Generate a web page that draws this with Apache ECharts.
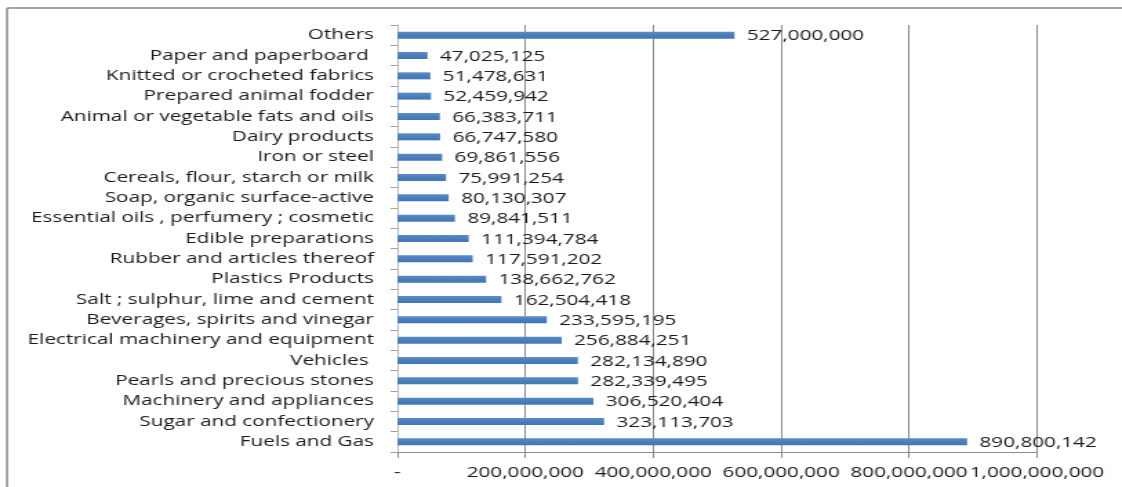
<!DOCTYPE html>
<html>
<head>
<meta charset="utf-8">
<script src="https://cdn.jsdelivr.net/npm/echarts@6/dist/echarts.min.js"></script>
<style>
html,body{margin:0;padding:0;background:#fff;overflow:hidden;}
#chart{width:813px;height:487px;transform:scaleX(1.38);transform-origin:0 0;}
</style>
</head>
<body>
<div id="chart"></div>
<script>
// Categories listed top to bottom as in the reference
const categories = [
  'Others',
  'Paper and paperboard ',
  'Knitted or crocheted fabrics',
  'Prepared animal fodder',
  'Animal or vegetable fats and oils',
  'Dairy products',
  'Iron or steel',
  'Cereals, flour, starch or milk',
  'Soap, organic surface-active',
  'Essential oils , perfumery ; cosmetic',
  'Edible preparations',
  'Rubber and articles thereof',
  'Plastics Products',
  'Salt ; sulphur, lime and cement',
  'Beverages, spirits and vinegar',
  'Electrical machinery and equipment',
  'Vehicles ',
  'Pearls and precious stones',
  'Machinery and appliances',
  'Sugar and confectionery',
  'Fuels and Gas'
];
const values = [
  527000000,
  47025125,
  51478631,
  52459942,
  66383711,
  66747580,
  69861556,
  75991254,
  80130307,
  89841511,
  111394784,
  117591202,
  138662762,
  162504418,
  233595195,
  256884251,
  282134890,
  282339495,
  306520404,
  323113703,
  890800142
];
const axisMin = 0;
const axisMax = 1000000000;
const axisStep = 200000000;

function commas(v) {
  return String(Math.round(v)).replace(/\B(?=(\d{3})+(?!\d))/g, ',');
}

const chart = echarts.init(document.getElementById('chart'), null, {renderer: 'canvas'});
const FONT = '"Open Sans", sans-serif';
chart.setOption({
  animation: false,
  backgroundColor: '#ffffff',
  textStyle: {fontFamily: FONT},
  grid: {left: 288, right: 61.6, top: 25, bottom: 35, containLabel: false},
  xAxis: {
    type: 'value',
    min: axisMin,
    max: axisMax,
    interval: axisStep,
    axisLine: {show: true, lineStyle: {color: '#8c8c8c', width: 1}},
    axisTick: {show: true, length: 6, lineStyle: {color: '#8c8c8c'}},
    splitLine: {show: true, lineStyle: {color: '#8c8c8c', width: 1}},
    axisLabel: {
      show: true,
      margin: 13,
      fontFamily: FONT,
      fontSize: 15,
      color: '#1a1a1a',
      showMinLabel: true,
      showMaxLabel: true,
      formatter: function (v) { return v === 0 ? '-' : commas(v); }
    }
  },
  yAxis: {
    type: 'category',
    data: categories,
    inverse: true,
    axisLine: {show: true, lineStyle: {color: '#b5b5b5', width: 1}},
    axisTick: {show: true, length: 5, alignWithLabel: false, lineStyle: {color: '#a0a0a0'}},
    splitLine: {show: false},
    axisLabel: {
      interval: 0,
      margin: 17,
      fontFamily: FONT,
      fontSize: 15,
      color: '#1a1a1a'
    }
  },
  series: [{
    type: 'bar',
    data: values,
    barWidth: 7,
    itemStyle: {
      color: new echarts.graphic.LinearGradient(0, 0, 0, 1, [
        {offset: 0, color: '#5a8cc8'},
        {offset: 0.5, color: '#4a7ebb'},
        {offset: 1, color: '#4276b4'}
      ])
    },
    label: {
      show: true,
      position: 'right',
      distance: 9,
      fontFamily: FONT,
      fontSize: 15,
      color: '#1a1a1a',
      offset: [0, 1],
      formatter: function (p) { return commas(p.value); }
    }
  }],
  graphic: [
    {type: 'line', silent: true, shape: {x1: 5.1, y1: 8, x2: 813, y2: 8}, style: {stroke: '#8a8a8a', lineWidth: 1.5}},
    {type: 'line', silent: true, shape: {x1: 5.1, y1: 8, x2: 5.1, y2: 487}, style: {stroke: '#8a8a8a', lineWidth: 1.5}}
  ]
});
</script>
</body>
</html>
